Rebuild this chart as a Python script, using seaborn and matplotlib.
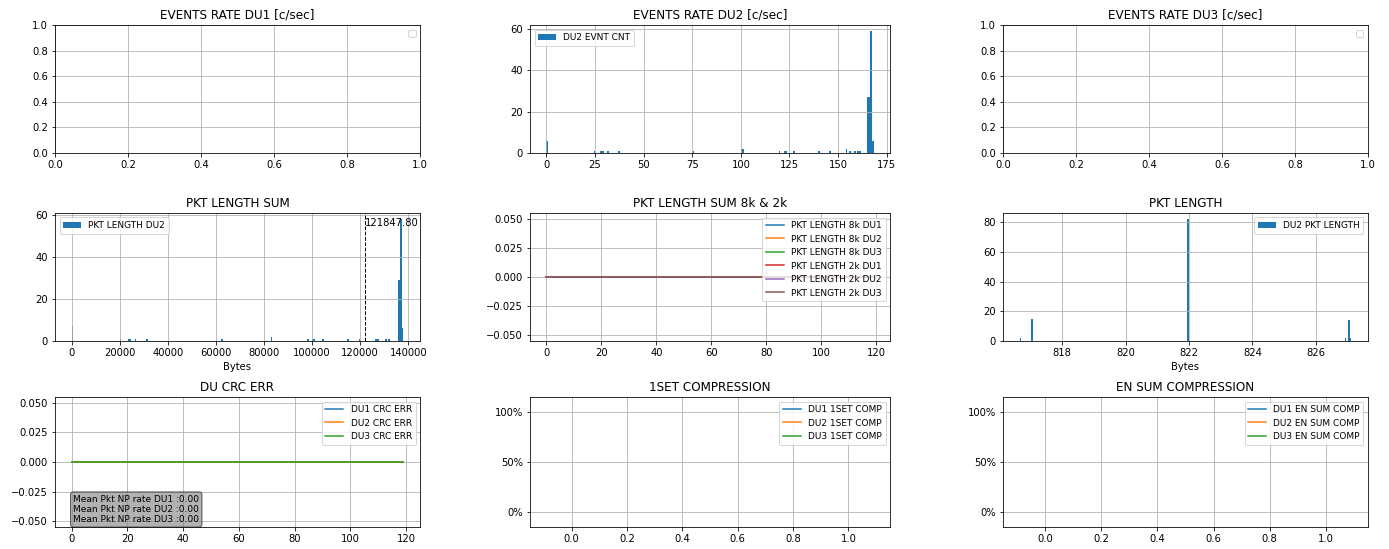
import numpy as np
import matplotlib
matplotlib.use("Agg")
import matplotlib.pyplot as plt
import seaborn as sns
from matplotlib.ticker import PercentFormatter

# DU2 event rate histogram (value, count)
du2_rate_vals = [0.0, 24.6, 28.3, 29.0, 31.9, 37.7, 75.6, 100.5, 101.3, 119.8, 122.3, 123.3,
                 127.4, 139.8, 145.8, 154.8, 155.7, 159.0, 160.0, 161.0, 165.6, 166.4,
                 167.2, 168.3]
du2_rate_cnts = [6, 1, 1, 1, 1, 1, 1, 2, 2, 1, 1, 1,
                 1, 1, 1, 2, 1, 1, 1, 1, 27, 27,
                 59, 6]

# DU2 packet length sum histogram (bytes, count)
pkt_sum_vals = [0, 20300, 23800, 24300, 26300, 31300, 62200, 83000, 98300, 100500,
                101200, 104300, 114700, 119600, 126700, 127400, 130800, 132400,
                136200, 136900, 137990]
pkt_sum_cnts = [7, 1, 1, 1, 1, 1, 1, 2, 1, 1,
                1, 1, 1, 1, 1, 1, 1, 1,
                29, 58, 6]
pkt_sum_mean = 121847.80

# DU2 packet length histogram (bytes, count)
pkt_len_vals = [816.66, 817.05, 821.97, 826.95, 827.02, 827.12]
pkt_len_cnts = [2, 15, 82, 2, 14, 2]

# time series (all zero)
n_samples = 120
pkt_8k_du1 = [0.0] * n_samples
pkt_8k_du2 = [0.0] * n_samples
pkt_8k_du3 = [0.0] * n_samples
pkt_2k_du1 = [0.0] * n_samples
pkt_2k_du2 = [0.0] * n_samples
pkt_2k_du3 = [0.0] * n_samples
crc_err_du1 = [0.0] * n_samples
crc_err_du2 = [0.0] * n_samples
crc_err_du3 = [0.0] * n_samples

plt.rcParams["axes.grid"] = True
plt.rcParams["font.family"] = ["DejaVu Sans"]

W, H = 1389, 549
fig, axes = plt.subplots(3, 3, figsize=(W / 72, H / 72), dpi=72)

cols = [(55, 420), (530, 890), (1003, 1368)]
rows = [(25, 153), (213, 341), (397, 527)]
for r, (yt, yb) in enumerate(rows):
    for c, (xl, xr) in enumerate(cols):
        axes[r, c].set_position([xl / W, 1 - yb / H, (xr - xl) / W, (yb - yt) / H])

blue = "#1f77b4"
LFS = 9
x_idx = np.arange(n_samples)
zero_ticks = [-0.05, -0.025, 0.0, 0.025, 0.05]

# row 1
ax = axes[0, 0]
ax.set_title("EVENTS RATE DU1 [c/sec]")
ax.legend(fontsize=LFS)

ax = axes[0, 1]
ax.hist(du2_rate_vals, bins=200, weights=du2_rate_cnts, color=blue, label="DU2 EVNT CNT")
ax.set_title("EVENTS RATE DU2 [c/sec]")
ax.legend(loc="upper left", fontsize=LFS)

ax = axes[0, 2]
ax.set_title("EVENTS RATE DU3 [c/sec]")
ax.legend(fontsize=LFS)

# row 2
ax = axes[1, 0]
ax.hist(pkt_sum_vals, bins=200, weights=pkt_sum_cnts, color=blue, label="PKT LENGTH DU2")
ax.axvline(pkt_sum_mean, color="k", linestyle="dashed", linewidth=1)
ymax = ax.get_ylim()[1]
ax.text(pkt_sum_mean, ymax * 0.9, f"{pkt_sum_mean:.2f}")
ax.set_title("PKT LENGTH SUM")
ax.set_xlabel("Bytes")
ax.legend(loc="upper left", fontsize=LFS)

ax = axes[1, 1]
for ys, lab in [(pkt_8k_du1, "PKT LENGTH 8k DU1"), (pkt_8k_du2, "PKT LENGTH 8k DU2"),
                (pkt_8k_du3, "PKT LENGTH 8k DU3"), (pkt_2k_du1, "PKT LENGTH 2k DU1"),
                (pkt_2k_du2, "PKT LENGTH 2k DU2"), (pkt_2k_du3, "PKT LENGTH 2k DU3")]:
    sns.lineplot(x=x_idx, y=ys, label=lab, ax=ax)
ax.set_yticks(zero_ticks)
ax.set_ylim(-0.055, 0.055)
ax.yaxis.set_major_formatter("{x:.3f}")
ax.set_title("PKT LENGTH SUM 8k & 2k")
ax.legend(loc="upper right", fontsize=LFS)

ax = axes[1, 2]
ax.hist(pkt_len_vals, bins=200, weights=pkt_len_cnts, color=blue, label="DU2 PKT LENGTH")
ax.set_title("PKT LENGTH")
ax.set_xlabel("Bytes")
ax.legend(loc="upper right", fontsize=LFS)

# row 3
ax = axes[2, 0]
for ys, lab in [(crc_err_du1, "DU1 CRC ERR"), (crc_err_du2, "DU2 CRC ERR"),
                (crc_err_du3, "DU3 CRC ERR")]:
    sns.lineplot(x=x_idx, y=ys, label=lab, ax=ax)
ax.set_yticks(zero_ticks)
ax.set_ylim(-0.055, 0.055)
ax.yaxis.set_major_formatter("{x:.3f}")
ax.set_title("DU CRC ERR")
ax.legend(loc="upper right", fontsize=LFS)
txt = "\n".join(f"Mean Pkt NP rate DU{i} :{np.mean(v):.2f}"
                for i, v in enumerate([crc_err_du1, crc_err_du2, crc_err_du3], 1))
ax.text(0.05, 0.02, txt, transform=ax.transAxes, fontsize=LFS, va="bottom",
        bbox=dict(boxstyle="round", facecolor="gray", alpha=0.6))

for ax, title, names in [(axes[2, 1], "1SET COMPRESSION", ["DU1 1SET COMP", "DU2 1SET COMP", "DU3 1SET COMP"]),
                         (axes[2, 2], "EN SUM COMPRESSION", ["DU1 EN SUM COMP", "DU2 EN SUM COMP", "DU3 EN SUM COMP"])]:
    for lab in names:
        ax.plot([], [], label=lab)
    ax.set_xlim(-0.15, 1.15)
    ax.set_ylim(-0.15, 1.15)
    ax.set_xticks([0.0, 0.2, 0.4, 0.6, 0.8, 1.0])
    ax.set_yticks([0, 0.5, 1.0])
    ax.yaxis.set_major_formatter(PercentFormatter(1.0, decimals=0))
    ax.set_title(title)
    ax.legend(loc="upper right", fontsize=LFS)

fig.savefig("out.png", dpi=72)
